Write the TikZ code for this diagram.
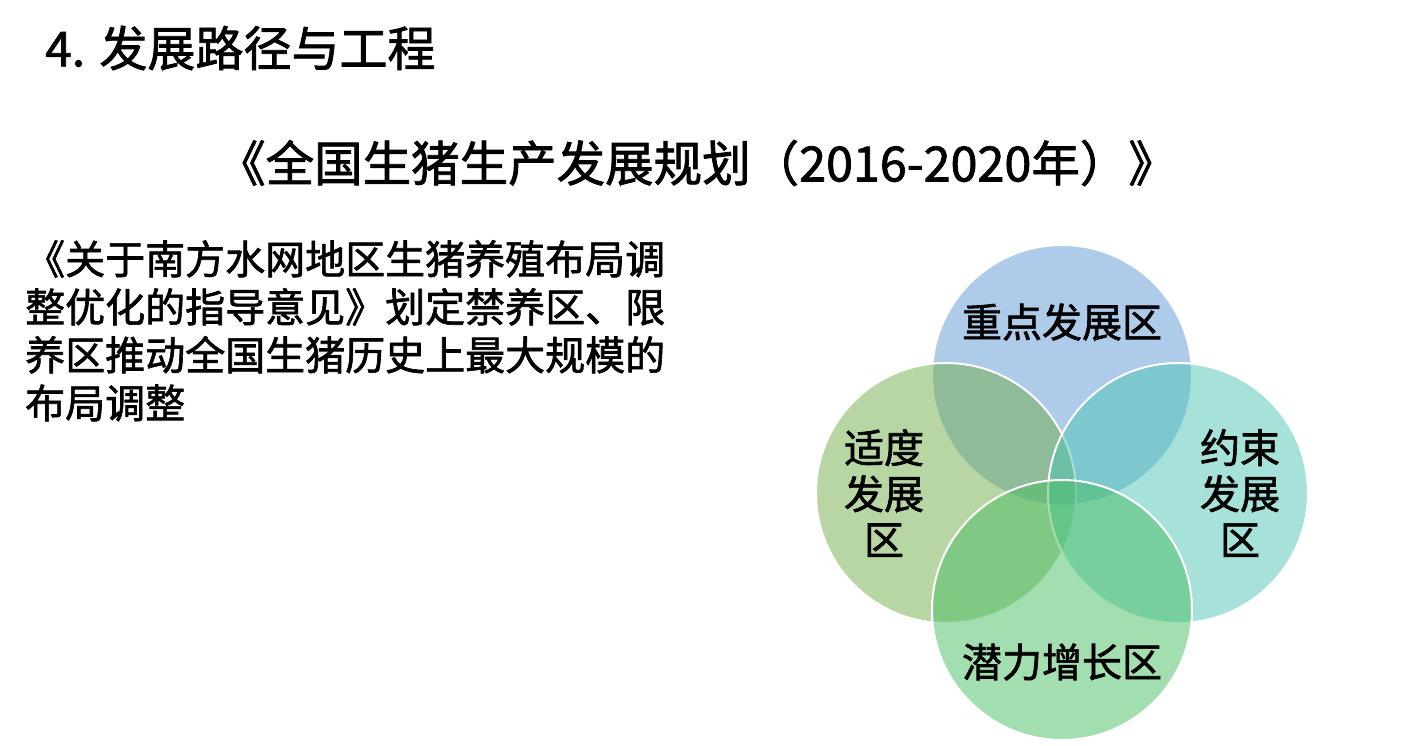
\documentclass[tikz,border=0pt]{standalone}
\usepackage{fontspec}
\setmainfont{Noto Sans CJK SC}[FakeBold=1.6]
\usepackage{xcolor}
\definecolor{zoneblue}{RGB}{93, 151, 211}
\definecolor{zonelime}{RGB}{113, 173, 73}
\definecolor{zoneteal}{RGB}{77, 197, 181}
\definecolor{zonegreen}{RGB}{71, 189, 97}
\usepackage{tikz}
\usetikzlibrary{positioning}

\begin{document}
\begin{tikzpicture}[x=1pt, y=-1pt,
    zone/.style={circle, minimum size=260pt, inner sep=0pt, draw=white, line width=2pt, fill opacity=0.5},
    zlabel/.style={align=center, font=\fontsize{40}{46}\selectfont, text=black},
    ptext/.style={align=left, anchor=north west, font=\fontsize{40}{48}\selectfont, inner sep=0pt}
  ]
    \useasboundingbox (0,0) rectangle (1426,746);

    \node[anchor=west, inner sep=0pt, font=\fontsize{48}{52}\selectfont] (title) at (45,48) {4. 发展路径与工程};
    \node[inner sep=0pt, font=\fontsize{48.5}{52}\selectfont] (plan) at (697,163) {《全国生猪生产发展规划（2016-2020年）》};
    \node[ptext] (note) at (25,240) {《关于南方水网地区生猪养殖布局调\\整优化的指导意见》划定禁养区、限\\养区推动全国生猪历史上最大规模的\\布局调整};

    \node[zone, fill=zoneblue] (zt) at (1062,375) {};
    \node[zone, fill=zonelime] (zl) at (946,493) {};
    \node[zone, fill=zoneteal] (zr) at (1178,493) {};
    \node[zone, fill=zonegreen] (zb) at (1062,610) {};

    \node[zlabel] (lt) at (1062,322) {重点发展区};
    \node[zlabel] (ll) at (884,493) {适度\\发展\\区};
    \node[zlabel] (lr) at (1240,493) {约束\\发展\\区};
    \node[zlabel] (lb) at (1062,662) {潜力增长区};
  \end{tikzpicture}
\end{document}
